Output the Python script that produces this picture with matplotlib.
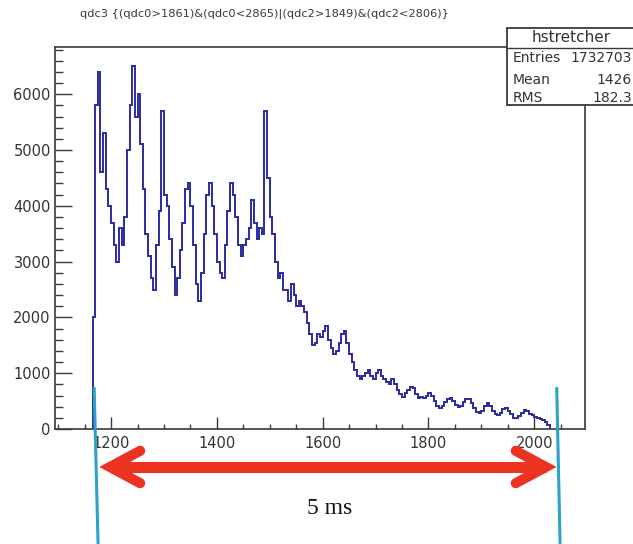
import numpy as np
import matplotlib
matplotlib.use("Agg")
import matplotlib.pyplot as plt
from matplotlib.ticker import MultipleLocator, FixedLocator
from matplotlib.patches import Rectangle
from matplotlib.lines import Line2D

# ---------------- data ----------------
bin_start = 1165
bin_width = 5
counts_a = [2000, 5800, 6400, 4600, 5300, 4300, 4000, 3700, 3300, 3000,
            3600, 3300, 3800, 5000, 5800, 6500, 5600, 6000, 5100, 4300,
            3500, 3100, 2700, 2500, 3300, 3900, 5700, 4200, 4000, 3400,
            2900, 2400, 2700, 3200, 3700, 4300]
counts_b = [4400, 4000, 3300, 2600, 2300, 2800, 3500, 4200, 4400, 4000,
            3500, 3000, 2800, 2700, 3300, 3900, 4400, 4200, 3800, 3300,
            3100, 3300, 3400, 3600, 4100, 3700, 3400, 3600, 3500, 5700,
            4500, 3800, 3500, 3000, 2700, 2800, 2500]
counts_c = [2500, 2300, 2600, 2400, 2200, 2300, 2200, 2100, 1900, 1700,
            1500, 1550, 1700, 1650, 1750, 1850, 1600, 1450, 1350, 1400,
            1550, 1700, 1750, 1550, 1350, 1200, 1050, 950, 900, 950,
            1000, 1050, 950, 900, 1000, 1050, 950, 900, 850, 800,
            900, 800, 700, 620, 580]
counts_d = [650, 700, 760, 740, 620, 560, 580, 560, 600, 650,
            600, 500, 420, 380, 420, 480, 540, 560, 500, 430,
            400, 420, 480, 530, 540, 470, 380, 300, 280, 330,
            410, 460, 420, 330, 260, 250, 290, 350, 370, 330,
            260, 200, 190, 230, 290, 340, 320, 260, 250, 220,
            190, 180, 160, 130, 80]
counts = np.array(counts_a + counts_b + counts_c + counts_d, dtype=float)
edges = bin_start + bin_width * np.arange(len(counts) + 1)

x_ticks = [1200, 1400, 1600, 1800, 2000]
y_ticks = [0, 1000, 2000, 3000, 4000, 5000, 6000]

title = "qdc3 {(qdc0>1861)&(qdc0<2865)|(qdc2>1849)&(qdc2<2806)}"
stats_name = "hstretcher"
stats_labels = ["Entries", "Mean", "RMS"]
stats_values = ["1732703", "1426", "182.3"]

# annotation markers (data coordinates)
left_line_x = [1168, 1175.5]
right_line_x = [2042.5, 2049]
line_y = [750, -2100]
arrow_x = [1198, 2022]
arrow_y = -681
span_text = "5 ms"

# ---------------- figure ----------------
W, H = 633, 544
fig = plt.figure(figsize=(W / 100, H / 100), dpi=100)
fig.patch.set_facecolor("white")

def fx(px):
    return px / W

def fy(py):
    return 1 - py / H

ax_l, ax_r, ax_b, ax_t = 55, 585, 429, 46.5
ax = fig.add_axes([fx(ax_l), fy(ax_b), fx(ax_r - ax_l), (ax_b - ax_t) / H])

hist_color = "#2b2b9e"
ax.stairs(counts, edges, baseline=0, color=hist_color, lw=1.4, zorder=3)

ax.set_xlim(1094, 2096)
ax.set_ylim(0, 6855)

ax.xaxis.set_major_locator(FixedLocator(x_ticks))
ax.xaxis.set_minor_locator(MultipleLocator(50))
ax.yaxis.set_major_locator(FixedLocator(y_ticks))
ax.yaxis.set_minor_locator(MultipleLocator(200))

frame_col = "#3a3a3a"
for s in ax.spines.values():
    s.set_color(frame_col)
    s.set_linewidth(1.2)

ax.tick_params(axis="both", which="both", direction="in", color=frame_col,
               labelcolor="#333333", labelsize=10.5, top=False, right=False)
ax.tick_params(axis="x", which="major", length=8.6, width=1.0, pad=5)
ax.tick_params(axis="x", which="minor", length=3.6, width=1.0)
ax.tick_params(axis="y", which="major", length=12, width=1.0, pad=3)
ax.tick_params(axis="y", which="minor", length=5.8, width=1.0)

# title
fig.text(fx(264.5), fy(14), title, ha="center", va="center",
         fontsize=8.2, color="#3a3a3a")

# stats box
box = Rectangle((fx(507), fy(105)), fx(140), (105 - 28.3) / H,
                transform=fig.transFigure, facecolor="white",
                edgecolor=frame_col, lw=1.3, zorder=10)
fig.patches.append(box)
fig.lines.append(Line2D([fx(507), fx(640)], [fy(48.3), fy(48.3)],
                        transform=fig.transFigure, color=frame_col, lw=1.0,
                        zorder=11))
fig.text(fx(571), fy(38), stats_name, ha="center", va="center",
         fontsize=11, color="#333333", zorder=12)
rows_y = [58, 80, 98]
for lab, val, ry in zip(stats_labels, stats_values, rows_y):
    fig.text(fx(513), fy(ry), lab, ha="left", va="center", fontsize=10,
             color="#333333", zorder=12)
    fig.text(fx(632), fy(ry), val, ha="right", va="center", fontsize=10,
             color="#333333", zorder=12)

# cyan markers
cyan = "#2aa3c6"
for xs in (left_line_x, right_line_x):
    ax.plot(xs, line_y, color=cyan, lw=2.2, clip_on=False, zorder=5,
            solid_capstyle="butt")

# red double arrow
red = "#ec3322"
arm_dx = 57
arm_dy = 290
ax.plot(arrow_x, [arrow_y, arrow_y], color=red, lw=8, clip_on=False,
        zorder=6, solid_capstyle="butt")
ax.plot([arrow_x[0] + arm_dx, arrow_x[0], arrow_x[0] + arm_dx],
        [arrow_y + arm_dy, arrow_y, arrow_y - arm_dy], color=red, lw=7.3,
        clip_on=False, zorder=6, solid_capstyle="round", solid_joinstyle="miter")
ax.plot([arrow_x[1] - arm_dx, arrow_x[1], arrow_x[1] - arm_dx],
        [arrow_y + arm_dy, arrow_y, arrow_y - arm_dy], color=red, lw=7.3,
        clip_on=False, zorder=6, solid_capstyle="round", solid_joinstyle="miter")

ax.text(1613, -1416, span_text, ha="center", va="center", fontsize=17,
        family="Liberation Serif", color="#111111", clip_on=False)

fig.savefig("out.png", dpi=100, facecolor="white")
